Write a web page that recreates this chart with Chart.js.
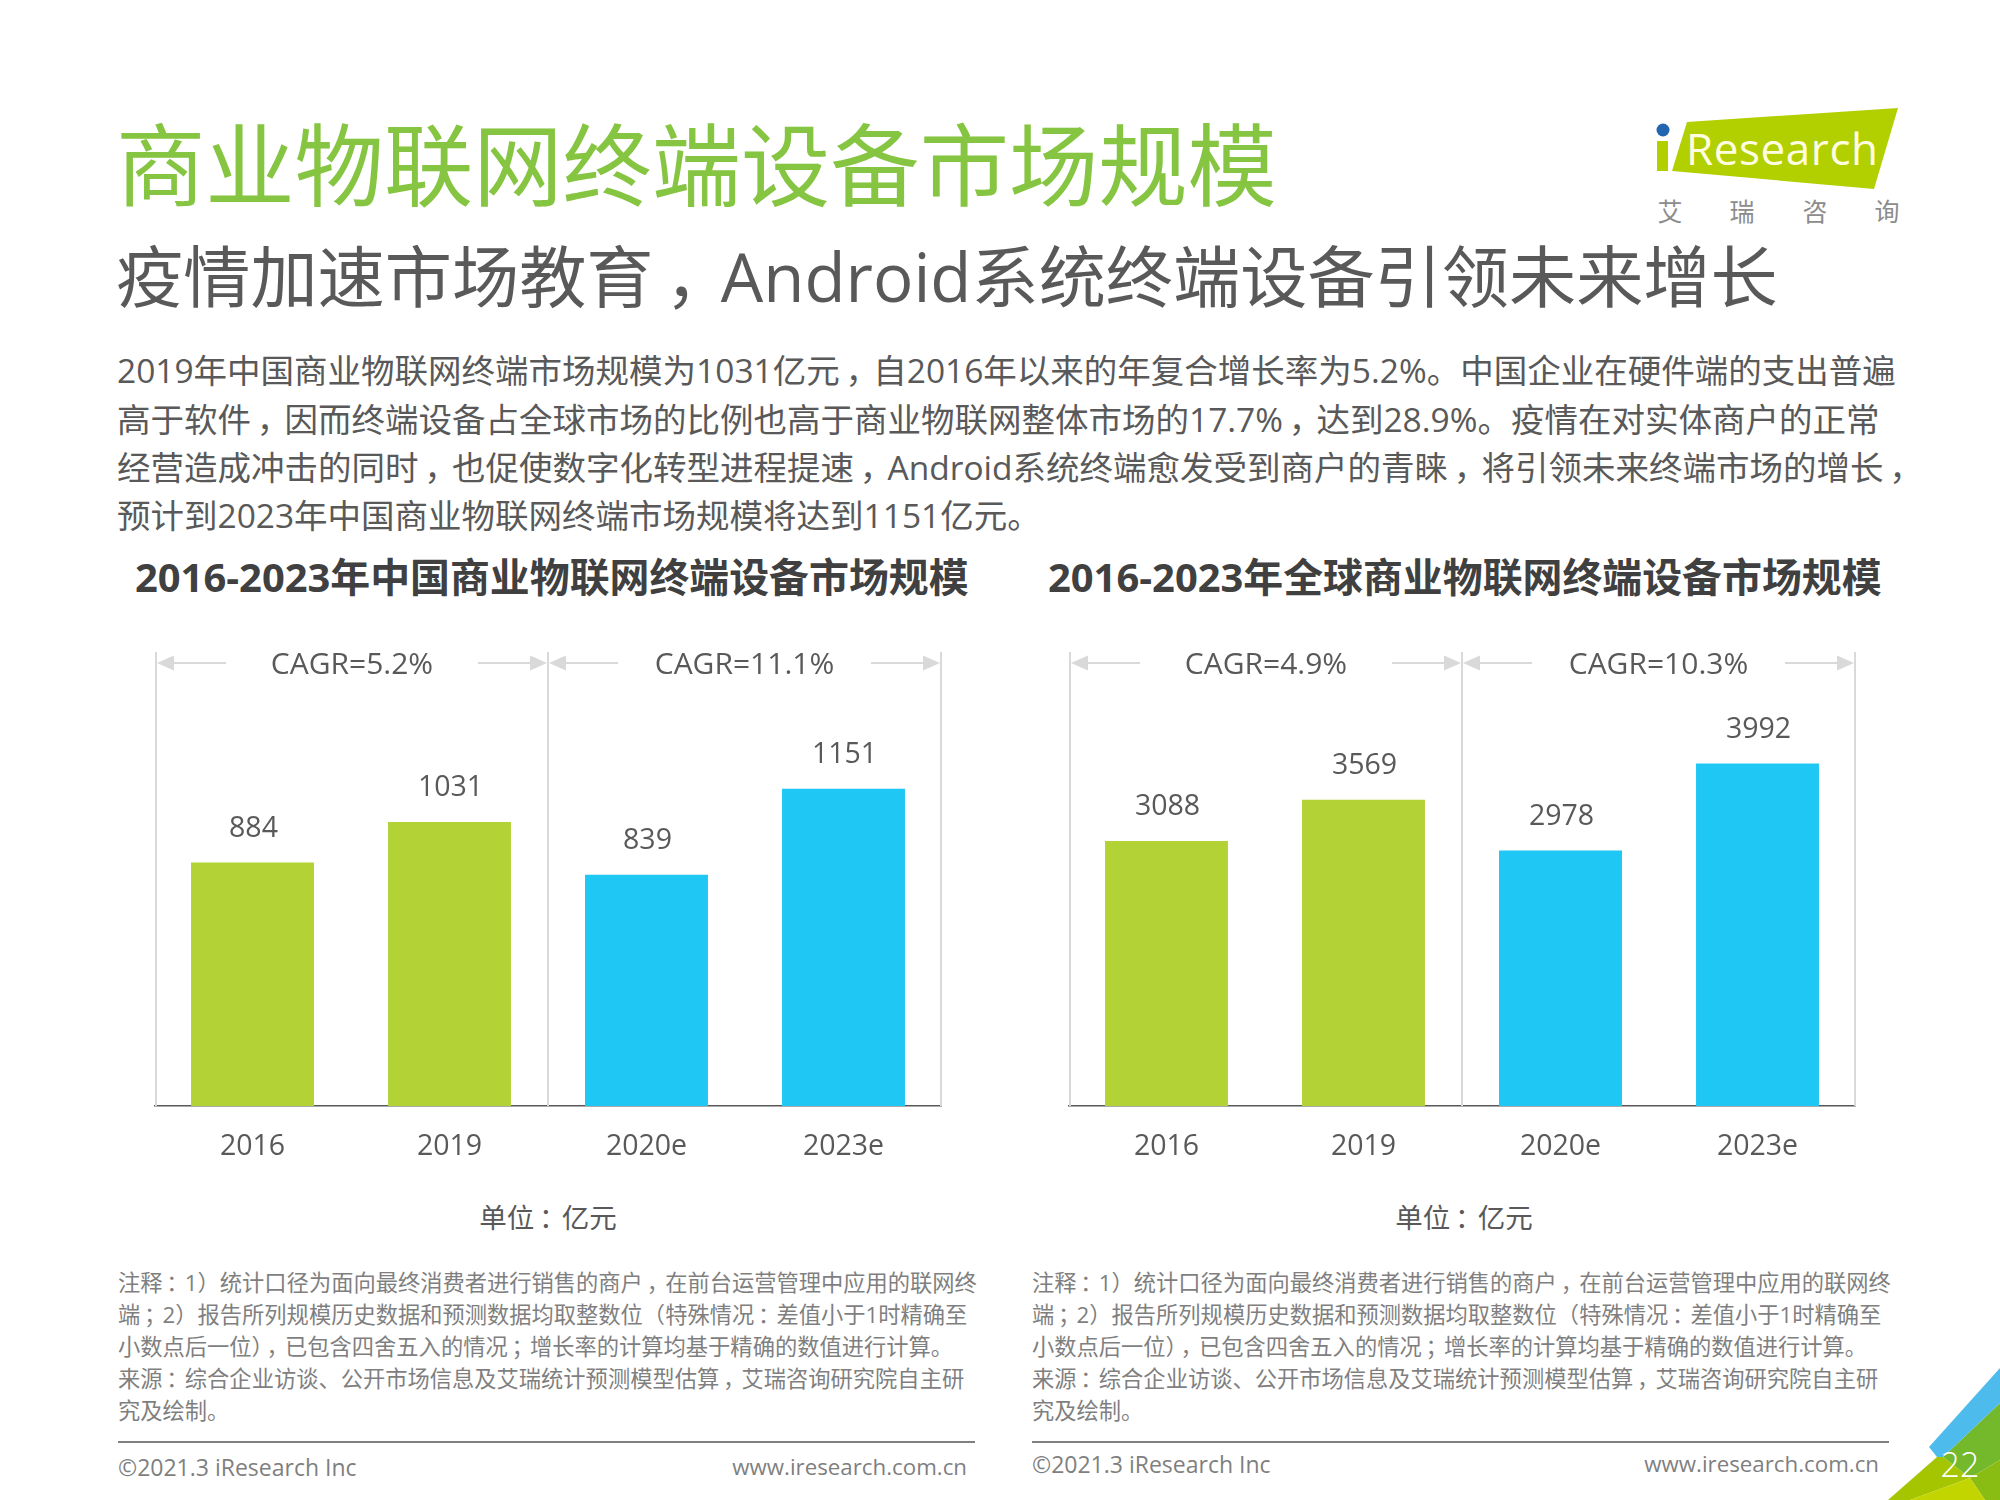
<!DOCTYPE html>
<html lang="zh">
<head>
<meta charset="utf-8">
<title>商业物联网终端设备市场规模</title>
<script src="https://cdn.jsdelivr.net/npm/chart.js@4"></script>
<style>
  html, body { margin: 0; padding: 0; background: #fff; }
  body { position: relative; width: 2000px; height: 1500px; overflow: hidden;
         font-family: "Open Sans", "Noto Sans CJK SC", sans-serif; color: #595959; }
  .t { position: absolute; white-space: nowrap; line-height: 1; transform: translateY(-50%); }
  .title { left: 116px; top: 165px; font-size: 89.3px; color: #86c541; }
  .sub { left: 116px; top: 277px; font-size: 67.2px; }
  .body { left: 117px; font-size: 33.5px; }
  .chart-title { font-size: 39.9px; font-weight: 700; color: #404040; }
  .unit { font-size: 27.5px; transform: translate(-50%, -50%); }
  .note { font-size: 22.27px; color: #7f7f7f; }
  .foot { font-size: 23px; color: #7f7f7f; }
  .web { font-size: 22.3px; }
  .rule { position: absolute; height: 2px; background: #808080; }
  .p { position: relative; left: .17em; }
  canvas { position: absolute; top: 610px; }
  svg { position: absolute; left: 0; top: 0; }
</style>
</head>
<body>
<svg width="2000" height="1500">
  <!-- logo -->
  <polygon points="1687,122 1898,108 1874,189 1672,171" fill="#b2cf00"/>
  <rect x="1657" y="141" width="11" height="30" fill="#b2cf00"/>
  <circle cx="1663" cy="130" r="6.5" fill="#2366b0"/>
  <text x="1686" y="165" font-size="44" fill="#fffde0" textLength="192" font-family="Open Sans">Research</text>
  <g font-size="25" fill="#8c8c8c" text-anchor="middle" font-family="Noto Sans CJK SC">
    <text x="1670" y="221">艾</text><text x="1742" y="221">瑞</text>
    <text x="1815" y="221">咨</text><text x="1887" y="221">询</text>
  </g>
  <!-- corner -->
  <polygon points="1943,1457 2000,1403 2000,1460 1970,1478" fill="#74b82b"/>
  <polygon points="1970,1478 2000,1460 2000,1500 1985,1500" fill="#8abd14"/>
  <polygon points="1937,1457 1943,1457 1970,1478 1910,1500 1888,1500" fill="#a5c500"/>
  <polygon points="1910,1500 1970,1478 1985,1500" fill="#c2d500"/>
  <polygon points="1929,1447 2000,1368 2000,1403 1943,1457 1937,1457" fill="#4dbbec"/>
  <text x="1960" y="1477" font-size="34" fill="#fff" text-anchor="middle" font-family="Open Sans" font-weight="300">22</text>
</svg>

<div class="t title">商业物联网终端设备市场规模</div>
<div class="t sub">疫情加速市场教育，Android系统终端设备引领未来增长</div>
<div class="t body" style="top:371px">2019年中国商业物联网终端市场规模为1031亿元，自2016年以来的年复合增长率为5.2%。中国企业在硬件端的支出普遍</div>
<div class="t body" style="top:420px">高于软件，因而终端设备占全球市场的比例也高于商业物联网整体市场的17.7%，达到28.9%。疫情在对实体商户的正常</div>
<div class="t body" style="top:468px">经营造成冲击的同时，也促使数字化转型进程提速，Android系统终端愈发受到商户的青睐，将引领未来终端市场的增长，</div>
<div class="t body" style="top:516px">预计到2023年中国商业物联网终端市场规模将达到1151亿元。</div>

<div class="t chart-title" style="left:135px;top:577px">2016-2023年中国商业物联网终端设备市场规模</div>
<div class="t chart-title" style="left:1048px;top:577px">2016-2023年全球商业物联网终端设备市场规模</div>

<canvas id="chinaChart" width="788" height="570" style="left:154px"></canvas>
<canvas id="globalChart" width="788" height="570" style="left:1068px"></canvas>

<div class="t unit" style="left:548px;top:1218px">单位：亿元</div>
<div class="t unit" style="left:1464px;top:1218px">单位：亿元</div>

<div class="t note" style="left:118px;top:1283px">注释：1）统计口径为面向最终消费者进行销售的商户，在前台运营管理中应用的联网终</div>
<div class="t note" style="left:118px;top:1315px">端；2）报告所列规模历史数据和预测数据均取整数位（特殊情况：差值小于1时精确至</div>
<div class="t note" style="left:118px;top:1347px">小数点后一位），已包含四舍五入的情况；增长率的计算均基于精确的数值进行计算。</div>
<div class="t note" style="left:118px;top:1379px">来源：综合企业访谈、公开市场信息及艾瑞统计预测模型估算，艾瑞咨询研究院自主研</div>
<div class="t note" style="left:118px;top:1411px">究及绘制。</div>

<div class="t note" style="left:1032px;top:1283px">注释：1）统计口径为面向最终消费者进行销售的商户，在前台运营管理中应用的联网终</div>
<div class="t note" style="left:1032px;top:1315px">端；2）报告所列规模历史数据和预测数据均取整数位（特殊情况：差值小于1时精确至</div>
<div class="t note" style="left:1032px;top:1347px">小数点后一位），已包含四舍五入的情况；增长率的计算均基于精确的数值进行计算。</div>
<div class="t note" style="left:1032px;top:1379px">来源：综合企业访谈、公开市场信息及艾瑞统计预测模型估算，艾瑞咨询研究院自主研</div>
<div class="t note" style="left:1032px;top:1411px">究及绘制。</div>

<div class="rule" style="left:118px;width:857px;top:1441px"></div>
<div class="rule" style="left:1032px;width:857px;top:1441px"></div>
<div class="t foot" style="left:118px;top:1467px">©2021.3 iResearch Inc</div>
<div class="t foot web" style="right:1033px;top:1467px">www.iresearch.com.cn</div>
<div class="t foot" style="left:1032px;top:1464px">©2021.3 iResearch Inc</div>
<div class="t foot web" style="right:121px;top:1464px">www.iresearch.com.cn</div>

<script>
// 数据
const categories = ["2016", "2019", "2020e", "2023e"];
const chinaValues = [884, 1031, 839, 1151];
const globalValues = [3088, 3569, 2978, 3992];
const chinaCagr = ["CAGR=5.2%", "CAGR=11.1%"];
const globalCagr = ["CAGR=4.9%", "CAGR=10.3%"];

const GREEN = "#b2d235";
const BLUE = "#1fc7f4";
const barColors = [GREEN, GREEN, BLUE, BLUE];
const FONT = '"Open Sans", "Noto Sans CJK SC", sans-serif';
const TEXT = "#595959";
const BRACKET = "#d9d9d9";

// 全角标点居中
document.querySelectorAll(".sub, .body, .unit, .note").forEach(el => {
  el.innerHTML = el.textContent.replace(/[，：；]/g, '<span class="p">$&</span>');
});

// 柱顶数值
const valueLabels = {
  id: "valueLabels",
  afterDatasetsDraw(chart) {
    const { ctx } = chart;
    const bars = chart.getDatasetMeta(0).data;
    ctx.save();
    ctx.font = "28.5px " + FONT;
    ctx.fillStyle = TEXT;
    ctx.textAlign = "center";
    ctx.textBaseline = "middle";
    bars.forEach((bar, i) => {
      ctx.fillText(chart.data.datasets[0].data[i], bar.x + 1, bar.y - 34);
    });
    ctx.restore();
  }
};

// CAGR 区间箭头
const cagrBrackets = {
  id: "cagrBrackets",
  afterDraw(chart, args, opts) {
    const { ctx, chartArea } = chart;
    const x = chart.scales.x;
    const band = x.getPixelForValue(1) - x.getPixelForValue(0);
    const start = x.getPixelForValue(0) - band / 2 + 2;
    const mid = x.getPixelForValue(1) + band / 2;
    const end = x.getPixelForValue(3) + band / 2 - 1;
    const arrowY = chartArea.bottom - 443;
    const lineTop = chartArea.bottom - 454;

    ctx.save();
    ctx.strokeStyle = BRACKET;
    ctx.fillStyle = BRACKET;
    ctx.lineWidth = 2;
    [start, mid, end].forEach(px => {
      ctx.beginPath();
      ctx.moveTo(px, lineTop);
      ctx.lineTo(px, chartArea.bottom);
      ctx.stroke();
    });
    const arrow = (tip, dir) => {
      ctx.beginPath();
      ctx.moveTo(tip, arrowY);
      ctx.lineTo(tip + dir * 17, arrowY - 7.5);
      ctx.lineTo(tip + dir * 17, arrowY + 7.5);
      ctx.closePath();
      ctx.fill();
      ctx.beginPath();
      ctx.moveTo(tip + dir * 17, arrowY);
      ctx.lineTo(tip + dir * 69, arrowY);
      ctx.stroke();
    };
    [[start, mid], [mid, end]].forEach(([a, b], i) => {
      arrow(a + 1, 1);
      arrow(b - 1, -1);
      ctx.fillStyle = TEXT;
      ctx.font = "30px " + FONT;
      ctx.textAlign = "center";
      ctx.textBaseline = "middle";
      ctx.fillText(opts.labels[i], (a + b) / 2, arrowY + 2);
      ctx.fillStyle = BRACKET;
    });
    ctx.restore();
  }
};

function drawChart(id, values, cagr, yMax) {
  new Chart(document.getElementById(id).getContext("2d"), {
    type: "bar",
    data: {
      labels: categories,
      datasets: [{
        data: values,
        backgroundColor: barColors,
        barPercentage: 0.624,
        categoryPercentage: 1
      }]
    },
    options: {
      responsive: false,
      animation: false,
      devicePixelRatio: 1,
      layout: { padding: 0 },
      plugins: {
        legend: { display: false },
        tooltip: { enabled: false },
        cagrBrackets: { labels: cagr }
      },
      scales: {
        y: { display: false, min: 0, max: yMax },
        x: {
          afterFit(scale) { scale.height = 74; },
          grid: { display: false, drawTicks: false },
          border: { display: true, color: TEXT, width: 1.5 },
          ticks: { color: TEXT, font: { family: FONT, size: 28.5 }, padding: 24, maxRotation: 0 }
        }
      }
    },
    plugins: [valueLabels, cagrBrackets]
  });
}

drawChart("chinaChart", chinaValues, chinaCagr, 1800);
drawChart("globalChart", globalValues, globalCagr, 5780);
</script>
</body>
</html>
